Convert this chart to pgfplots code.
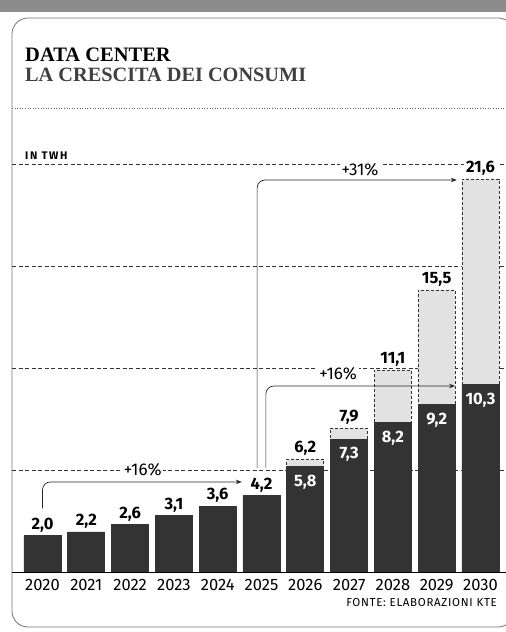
\documentclass[border=0pt]{standalone}
\usepackage{pgfplots}
\pgfplotsset{compat=1.18}
\usepackage{pgfplotstable}
\usepackage{fontspec}
\setmainfont{Fira Sans}
\newfontfamily\titlefont{Liberation Serif}
\usetikzlibrary{arrows.meta}

\definecolor{darkbar}{HTML}{333333}
\definecolor{lightbar}{HTML}{E2E2E2}

\pgfplotstableread{
x y lab
0 2.0 2,0
1 2.2 2,2
2 2.6 2,6
3 3.1 3,1
4 3.6 3,6
5 4.2 4,2
}\darklow
\pgfplotstableread{
x y lab
6 5.8 5,8
7 7.3 7,3
8 8.2 8,2
9 9.2 9,2
10 10.3 10,3
}\darkhigh
\pgfplotstableread{
x y lab
6 6.2 6,2
7 7.9 7,9
8 11.1 11,1
9 15.5 15,5
10 21.6 21,6
}\totals

\begin{document}
\begin{tikzpicture}
\path[use as bounding box] (0,0) rectangle (506pt,632pt);
\clip (0,0) rectangle (506pt,632pt);
\fill[black!45] (0,620pt) rectangle (506pt,632pt);
\draw[black!55, line width=0.8pt, rounded corners=16pt] (12pt,5pt) rectangle (514pt,614pt);
\draw[black!60, dotted, line width=0.6pt] (12pt,524pt) -- (506pt,524pt);
\node[anchor=base west, inner sep=0] at (25pt,570pt) {\titlefont\bfseries\fontsize{20.5}{21}\selectfont DATA CENTER};
\node[anchor=base west, inner sep=0, text=black!75] at (25pt,550pt) {\titlefont\bfseries\fontsize{20.3}{21}\selectfont LA CRESCITA DEI CONSUMI};
\node[anchor=base west, inner sep=0] at (25pt,472pt) {\bfseries\fontsize{11}{12}\selectfont\addfontfeatures{LetterSpace=15}IN TWH};
\node[anchor=base east, inner sep=0] at (497pt,25pt) {\fontsize{11.5}{12}\selectfont\addfontfeatures{LetterSpace=6}FONTE: ELABORAZIONI KTE};
\begin{axis}[
  at={(42.5pt,60pt)}, anchor=origin,
  scale only axis, width=494pt, height=436.8pt,
  xmin=-0.696, xmax=10.583, ymin=0, ymax=24,
  axis line style={draw=none},
  major tick length=0pt,
  xtick={0,1,2,3,4,5,6,7,8,9,10},
  xticklabels={2020,2021,2022,2023,2024,2025,2026,2027,2028,2029,2030},
  xticklabel style={anchor=base, yshift=-18.5pt, font=\fontsize{16.5}{16.5}\selectfont},
  ytick={5.6,11.2,16.8,22.4}, yticklabels={},
  ymajorgrids, grid style={black!80, line width=0.6pt, dash pattern=on 4pt off 2.5pt},
  clip=false,
  nodes near coords, point meta=explicit symbolic,
  every node near coord/.append style={font=\bfseries\fontsize{16.5}{16.5}\selectfont, inner sep=0pt},
]
\addplot[ybar, bar width=37pt, fill=lightbar, draw=black!80, line width=0.7pt,
  dash pattern=on 3pt off 2pt,
  nodes near coords style={anchor=base, yshift=6.5pt, fill=white, inner xsep=2pt, inner ysep=1.5pt}]
  table[x=x,y=y,meta=lab]{\totals};
\addplot[ybar, bar width=37pt, fill=darkbar, draw=darkbar, line width=0.8pt,
  nodes near coords style={anchor=base, yshift=6.5pt}]
  table[x=x,y=y,meta=lab]{\darklow};
\addplot[ybar, bar width=37pt, fill=darkbar, draw=darkbar, line width=0.8pt,
  nodes near coords style={anchor=north, yshift=-8pt, text=white}]
  table[x=x,y=y,meta=lab]{\darkhigh};
\draw[black, line width=0.8pt] (axis cs:-0.696,0) -- (axis cs:10.583,0);
\draw[black!85, line width=0.7pt, rounded corners=8pt, -{Stealth[length=6pt,width=4.5pt]}]
  (axis cs:0,3.5) |- (axis cs:4.55,4.95);
\draw[black!85, line width=0.7pt, rounded corners=8pt, -{Stealth[length=6pt,width=4.5pt]}]
  (axis cs:5.10,5.71) |- (axis cs:9.42,10.22);
\draw[black!85, line width=0.7pt, rounded corners=8pt, -{Stealth[length=6pt,width=4.5pt]}]
  (axis cs:4.90,5.71) |- (axis cs:9.46,21.54);
\node[fill=white, inner sep=1.5pt, font=\fontsize{17}{17}\selectfont] at (axis cs:2.29,5.6) {+16\%};
\node[fill=white, inner sep=1.5pt, font=\fontsize{17}{17}\selectfont] at (axis cs:6.75,10.88) {+16\%};
\node[fill=white, inner sep=1.5pt, font=\fontsize{17}{17}\selectfont] at (axis cs:7.25,22.12) {+31\%};
\end{axis}
\end{tikzpicture}
\end{document}
